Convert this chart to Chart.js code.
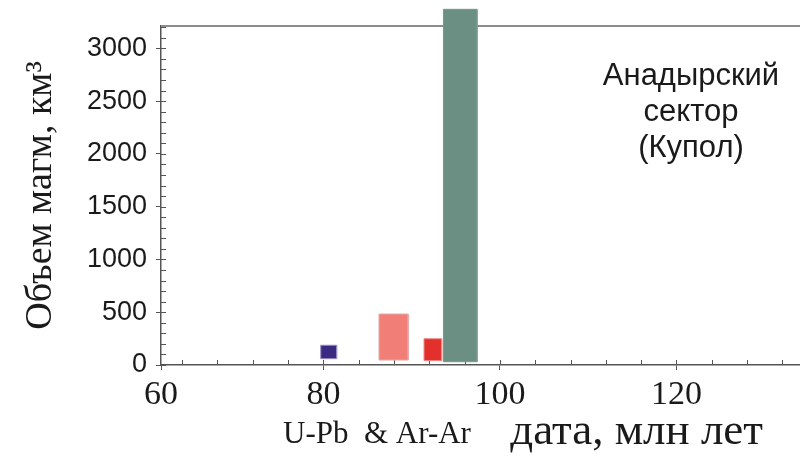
<!DOCTYPE html>
<html><head><meta charset="utf-8">
<script src="https://cdn.jsdelivr.net/npm/chart.js@4/dist/chart.umd.min.js"></script>
<style>html,body{margin:0;padding:0;background:#fff}#wrap{width:800px;height:456px;position:relative}</style>
</head><body><div id="wrap"><canvas id="c"></canvas></div>
<script>
// ---- data ----
const ageStart   = [79.7, 86.3, 91.4, 93.6];   // млн лет
const ageEnd     = [81.5, 89.6, 93.4, 97.4];
const volumeLow  = [60, 47, 41, 31];           // км^3
const volumeHigh = [187, 483, 249, 3369];
const xTickValues = [80, 100, 120];
const xTickLabels = ['60', '80', '100', '120'];
const yTickValues = [0, 500, 1000, 1500, 2000, 2500, 3000];
const xRange = [61.6, 134];
const yRange = [0, 3211];
const fillColors = ['#3b2a82', '#f17f78', '#e3302c', '#6c8f84'];
const edgeColors = ['#9a8cc0', '#e3aaa6', '#ec8c88', '#78998e'];
const noteLines = ['Анадырский', 'сектор', '(Купол)'];
const yTitle = 'Объем магм, км³';
const xTitleA = 'U-Pb  & Ar-Ar';
const xTitleB = 'дата, млн лет';

const datasets = ageStart.map((a, i) => ({
  data: [
    {x: a, y: volumeLow[i]}, {x: a, y: volumeHigh[i]},
    {x: ageEnd[i], y: volumeHigh[i]}, {x: ageEnd[i], y: volumeLow[i]},
    {x: a, y: volumeLow[i]}
  ],
  backgroundColor: fillColors[i],
  borderColor: edgeColors[i],
  borderWidth: 1,
  fill: false,
  pointRadius: 0,
  tension: 0,
  clip: false
}));

const yMinor = [];
for (let v = 100; v < yRange[1]; v += 100) if (v % 500) yMinor.push(v);
const xMinor = [];
for (let v = 64; v < xRange[1]; v += 4) if (v % 20) xMinor.push(v);

const decor = {
  id: 'decor',
  beforeDatasetsDraw(chart) {
    const {ctx, chartArea: a, scales: {x, y}} = chart;
    ctx.save();
    ctx.strokeStyle = '#8c8c8c'; ctx.lineWidth = 2;
    ctx.beginPath(); ctx.moveTo(a.left, a.top); ctx.lineTo(a.right, a.top); ctx.stroke();
    ctx.strokeStyle = '#555'; ctx.lineWidth = 1;
    ctx.beginPath();
    yMinor.concat(yTickValues).forEach(v => { const p = Math.round(y.getPixelForValue(v)) + 0.5; ctx.moveTo(a.left, p); ctx.lineTo(a.left + 5, p); });
    xMinor.concat(xTickValues).forEach(v => { const p = Math.round(x.getPixelForValue(v)) + 0.5; ctx.moveTo(p, a.bottom); ctx.lineTo(p, a.bottom - 5); });
    ctx.stroke();
    ctx.restore();
  },
  // fill each bar outline computed by the line element (no chart-area clipping)
  beforeDatasetDraw(chart, args) {
    const line = args.meta.dataset;
    if (!line) return;
    const ctx = chart.ctx;
    ctx.save();
    ctx.beginPath();
    line.path(ctx);
    ctx.closePath();
    ctx.fillStyle = line.options.backgroundColor;
    ctx.fill();
    ctx.restore();
  },
  afterDraw(chart) {
    const {ctx, chartArea: a} = chart;
    ctx.save();
    ctx.fillStyle = '#1a1a1a';
    ctx.textAlign = 'center'; ctx.textBaseline = 'alphabetic';
    ctx.font = '31px "Liberation Sans", Arial, sans-serif';
    noteLines.forEach((t, i) => ctx.fillText(t, a.left + 530, a.top + 59 + i * 36));
    ctx.textAlign = 'left';
    ctx.font = '31px "Liberation Serif", "Times New Roman", serif';
    ctx.fillText(xTitleA, 283, 443);
    ctx.textAlign = 'right';
    ctx.font = '45px "Liberation Serif", "Times New Roman", serif';
    ctx.fillText(xTitleB, 763, 444);
    ctx.restore();
  }
};

new Chart(document.getElementById('c'), {
  type: 'line',
  data: {datasets},
  plugins: [decor],
  options: {
    responsive: true, maintainAspectRatio: false, animation: false,
    layout: {padding: {top: 26, right: 0, left: 0, bottom: 0}},
    plugins: {legend: {display: false}, tooltip: {enabled: false}},
    scales: {
      x: {
        type: 'linear', min: xRange[0], max: xRange[1],
        afterBuildTicks: s => { s.ticks = [xRange[0]].concat(xTickValues).map(v => ({value: v})); },
        afterFit: s => { s.height = 91; },
        ticks: {
          callback: (v, i) => xTickLabels[i],
          color: '#1a1a1a', padding: 5, maxRotation: 0, autoSkip: false,
          font: {family: '"Liberation Serif", "Times New Roman", serif', size: 34}
        },
        grid: {drawOnChartArea: false, tickLength: 5, color: '#555', tickWidth: 1},
        border: {color: '#555', width: 1.5}
      },
      y: {
        type: 'linear', min: yRange[0], max: yRange[1],
        afterBuildTicks: s => { s.ticks = yTickValues.map(v => ({value: v})); },
        afterFit: s => { s.width = 161; },
        ticks: {
          callback: v => String(v),
          color: '#1a1a1a', padding: 9,
          font: {family: '"Liberation Sans", Arial, sans-serif', size: 27}
        },
        grid: {drawOnChartArea: false, tickLength: 5, color: '#555', tickWidth: 1},
        border: {color: '#555', width: 1.5},
        title: {
          display: true, text: yTitle, color: '#1a1a1a',
          padding: {top: 18, bottom: 0},
          font: {family: '"Liberation Serif", "Times New Roman", serif', size: 38}
        }
      }
    }
  }
});
</script></body></html>
